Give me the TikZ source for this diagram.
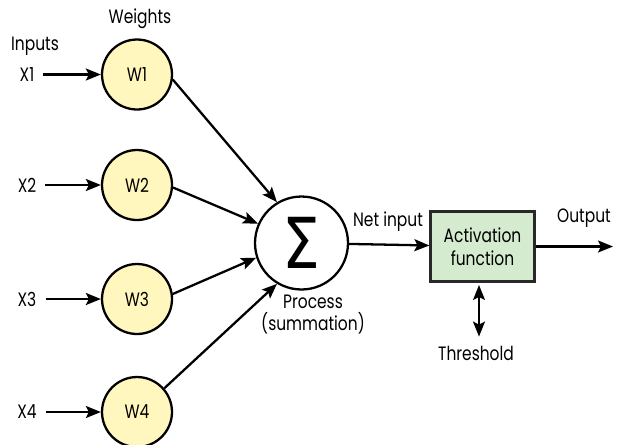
\documentclass[tikz,border=0pt]{standalone}
\usepackage{graphicx}
\usepackage{fontspec}
\setmainfont{Poppins}[FakeStretch=0.8]
\newfontfamily\greekfont{DejaVu Sans}
\usetikzlibrary{arrows.meta}

\definecolor{weightfill}{RGB}{255,247,189}
\definecolor{actfill}{RGB}{213,235,208}
\definecolor{actborder}{RGB}{40,40,40}

\tikzset{
    weight/.style={circle, draw, line width=1.3pt, fill=weightfill, minimum size=1.4cm, inner sep=0pt},
    sumnode/.style={circle, draw, line width=1.3pt, fill=white, minimum size=1.86cm, inner sep=0pt},
    actbox/.style={draw=actborder, line width=1.3pt, fill=actfill, minimum width=2.08cm, minimum height=1.4cm, align=center},
    link/.style={->, line width=1.3pt},
}

\begin{document}
\begin{tikzpicture}[x=0.02cm, y=-0.02cm, font=\fontsize{11}{13}\selectfont,
        >={Stealth[length=3mm, width=2.4mm, inset=0.6mm]}]
    \useasboundingbox (0,0) rectangle (621,444);

    \node[sumnode] (sum) at (301.5,243) {\scalebox{0.85}[1]{\fontsize{40}{40}\selectfont\greekfont Σ}};
    \node[actbox] (act) at (482.5,246.5) {Activation\\function};

    \node (inlbl) at (35,46) {Inputs};
    \node (wlbl) at (140,19) {Weights};

    % four inputs, each through its weight into the sum
    \foreach \i/\y/\a/\b in {1/74.5/-8/121, 2/185/-4/156, 3/299/8/198, 4/412/41/239} {
        \node[weight] (w\i) at (137,\y) {W\i};
        \node (x\i) at (27,\y) {X\i};
        \draw[link, shorten <=3*0.02cm] (x\i) -- (w\i);
        \draw[link] (w\i.\a) -- (sum.\b);
    }

    \node[align=center, font=\fontsize{11}{12.5}\selectfont] (proclbl) at (313,315) {Process\\(summation)};

    \node (netlbl) at (388,222) {Net input};
    \draw[link] (sum) -- (act);

    \node (outlbl) at (584,218) {Output};
    \coordinate (out) at (613,246.5);
    \draw[link] (act) -- (out);

    \node (thr) at (476,353) {Threshold};
    \coordinate (thrtop) at (479,285);
    \draw[<->, line width=1pt, shorten >=3*0.02cm] (thrtop) -- (thrtop |- thr.north);
\end{tikzpicture}
\end{document}
